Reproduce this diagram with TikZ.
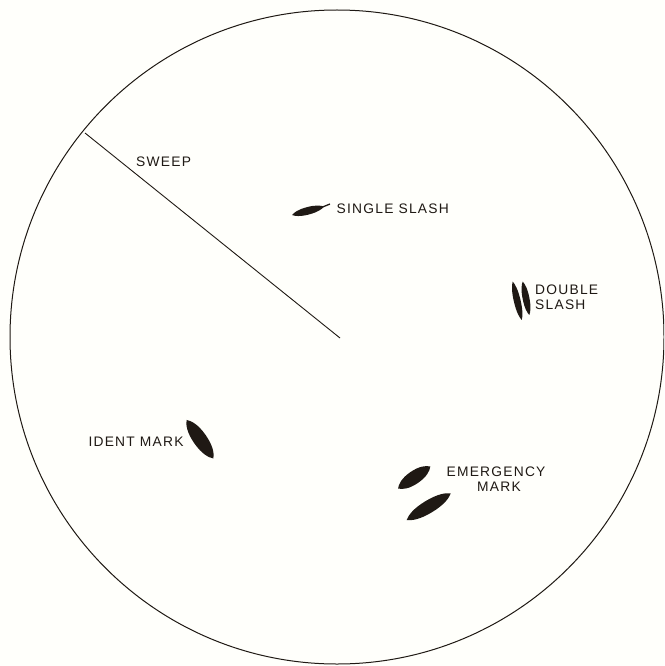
\documentclass[tikz,border=0pt]{standalone}
\usepackage{fontspec}
\setmainfont{Liberation Sans}
\newfontfamily\lblfam[LetterSpace=9]{Liberation Sans}
\definecolor{ink}{rgb}{0.12,0.10,0.08}
\definecolor{paper}{rgb}{1,1,0.985}
\tikzset{
  lbl/.style={font=\lblfam\fontsize{13.8}{15}\selectfont, inner sep=0pt, text=ink},
  rim/.style={draw=ink, line width=1pt},
  sweepline/.style={draw=ink, line width=0.9pt},
  pics/blob/.style args={#1/#2}{code={
    \fill[ink] (-#1,0) .. controls (-0.85*#1,0.5*#2) and (-0.55*#1,#2) .. (0,#2)
               .. controls (0.55*#1,#2) and (0.85*#1,0.5*#2) .. (#1,0)
               .. controls (0.85*#1,-0.5*#2) and (0.55*#1,-#2) .. (0,-#2)
               .. controls (-0.55*#1,-#2) and (-0.85*#1,-0.5*#2) .. cycle;}}
}
\begin{document}
\begin{tikzpicture}[x=1pt,y=-1pt]
\fill[paper] (0,0) rectangle (664,666);
\useasboundingbox (0,0) rectangle (664,666);
\clip (0,0) rectangle (664,666);
% scope rim
\coordinate (c) at (337,337);
\draw[rim] (c) circle[radius=327pt];
% sweep
\coordinate (s0) at (85,133);
\coordinate (s1) at (340,338);
\draw[sweepline] (s0) -- (s1);
\node[lbl, anchor=base west] (sweep) at (136,166) {SWEEP};
% single slash
\pic[rotate=14.7] at (308,210.8) {blob=16.5/3.8};
\coordinate (t0) at (322,207.2);
\coordinate (t1) at (330,204);
\draw[ink, line width=1.3pt] (t0) -- (t1);
\node[lbl, anchor=base west] (single) at (336.5,213.5) {SINGLE SLASH};
% double slash
\pic[rotate=-76.8] at (517.2,300.8) {blob=19.7/3.4};
\pic[rotate=-78.8] at (526,298.3) {blob=17/3.4};
\node[lbl, anchor=base west] (dbl1) at (535,294.3) {DOUBLE};
\node[lbl, anchor=base west] (dbl2) at (535,309.3) {SLASH};
% ident mark
\pic[rotate=-55.2] at (200,439.2) {blob=23.5/7};
\node[lbl, anchor=base west] (ident) at (88.3,446.7) {IDENT MARK};
% emergency mark
\pic[rotate=34.3] at (414.2,477.5) {blob=19.5/6.6};
\pic[rotate=31.2] at (428.7,506.7) {blob=25.7/6.4};
\node[lbl, anchor=base] (em1) at (496,476) {EMERGENCY};
\node[lbl, anchor=base] (em2) at (499,491.7) {MARK};
\end{tikzpicture}
\end{document}
